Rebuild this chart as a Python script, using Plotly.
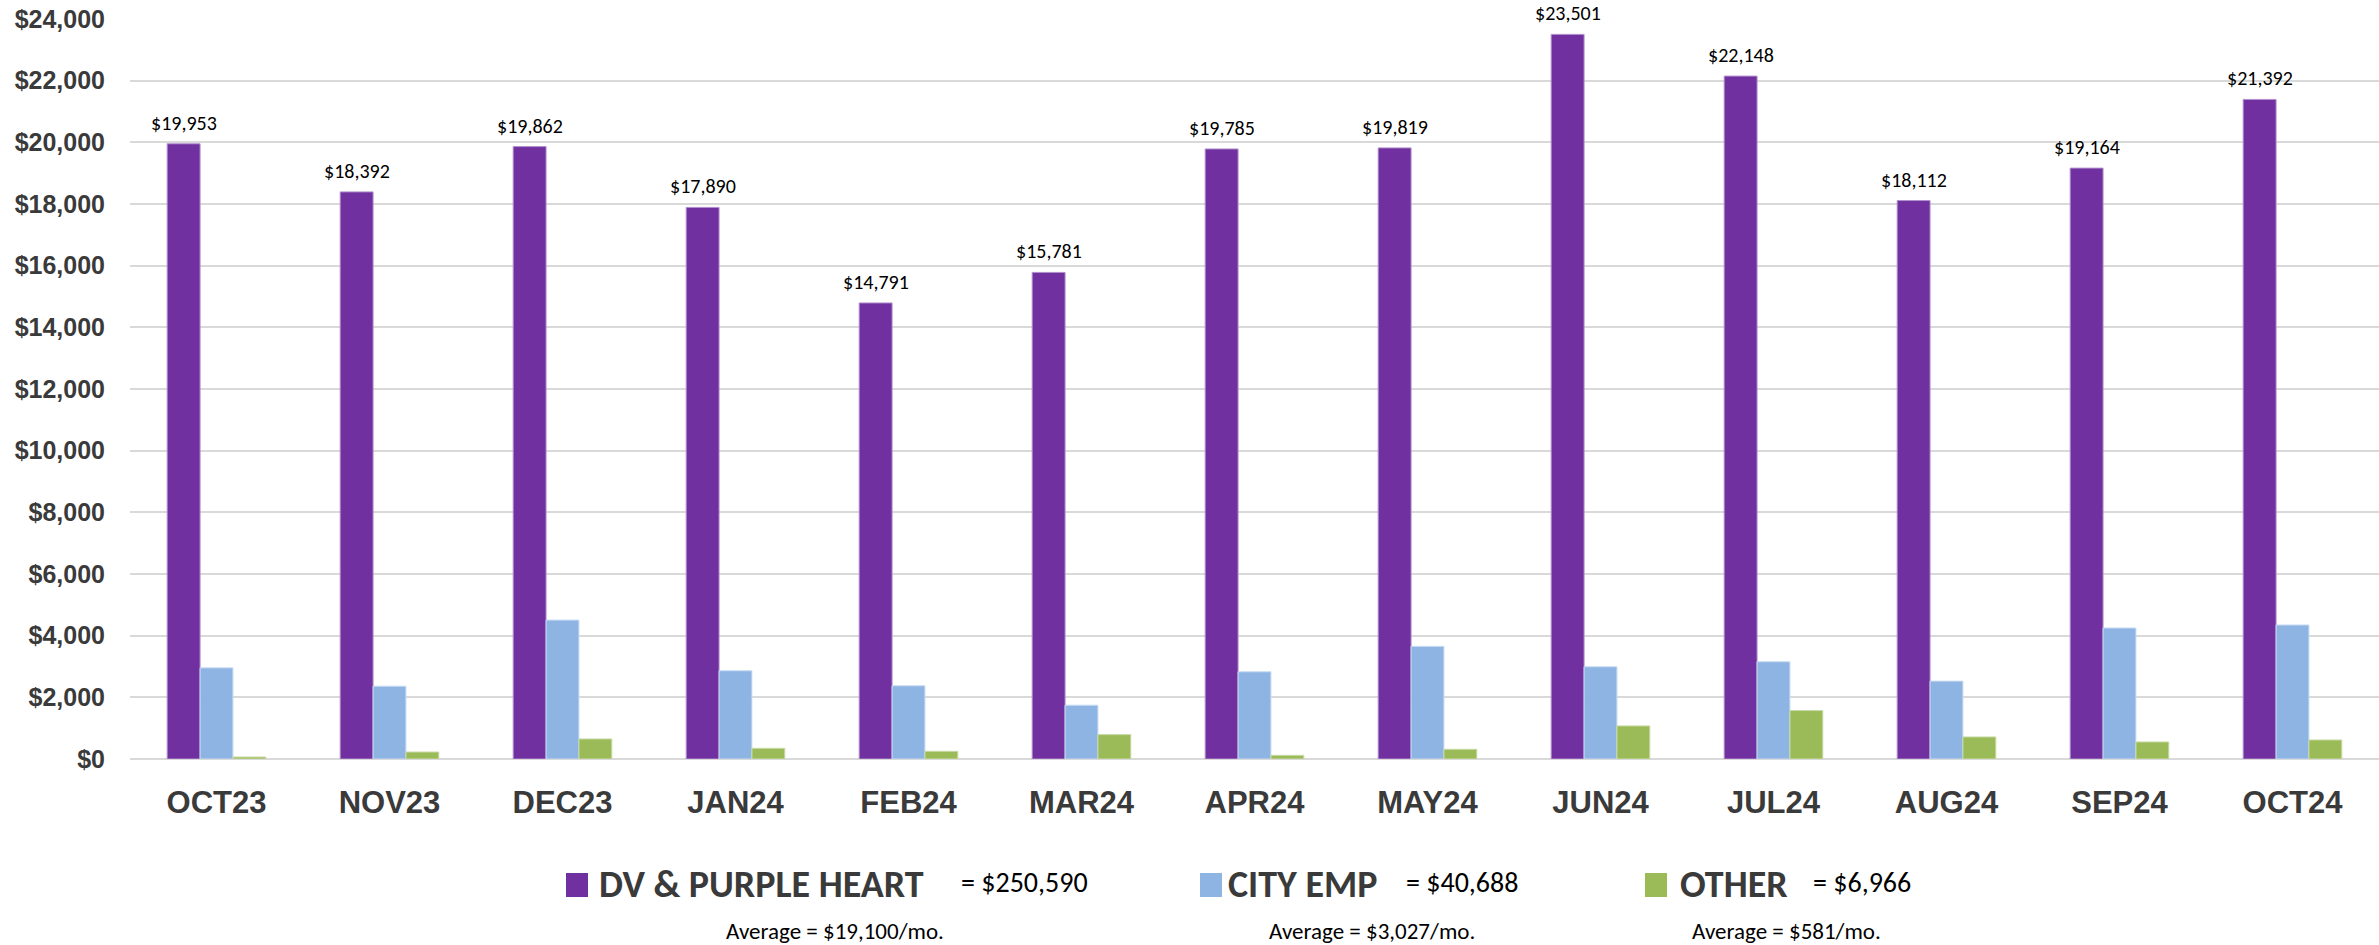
import plotly.graph_objects as go

months = ["OCT23", "NOV23", "DEC23", "JAN24", "FEB24", "MAR24", "APR24",
          "MAY24", "JUN24", "JUL24", "AUG24", "SEP24", "OCT24"]
dv_purple_heart = [19953, 18392, 19862, 17890, 14791, 15781, 19785,
                   19819, 23501, 22148, 18112, 19164, 21392]
city_emp = [2956, 2361, 4505, 2862, 2374, 1745, 2829,
            3653, 2992, 3154, 2526, 4249, 4347]
other = [65, 227, 650, 347, 249, 791, 119,
         314, 1073, 1572, 715, 553, 618]

series_names = ["DV & PURPLE HEART", "CITY EMP", "OTHER"]
series_totals = ["= $250,590", "= $40,688", "= $6,966"]
series_avgs = ["Average = $19,100/mo.", "Average = $3,027/mo.", "Average = $581/mo."]
y_ticks = list(range(0, 24001, 2000))

colors = ["#7030A0", "#8EB4E3", "#9BBB59"]
edge = ["#B08FCB", "#C9DBF2", "#C8DAA6"]

W, H = 2379, 945
ML, MR, MT, MB = 130, 0, 19, 186
PW, PH = W - ML - MR, H - MT - MB

fig = go.Figure()
for name, vals, c, e in zip(series_names, [dv_purple_heart, city_emp, other], colors, edge):
    fig.add_trace(go.Bar(x=months, y=vals, name=name, marker=dict(color=c, line=dict(color=e, width=1)),
                         hoverinfo="x+y"))

# data labels above purple bars (offset to the first bar of each group)
for m, v in zip(months, dv_purple_heart):
    fig.add_annotation(x=m, y=v, text=f"${v:,}", showarrow=False, xshift=-33, yshift=21,
                       yanchor="middle", font=dict(family="Carlito, Lato, sans-serif", size=20, color="#000000"))

def px_x(p):  # page pixel -> paper
    return (p - ML) / PW

def px_y(p):
    return (H - MB - p) / PH

# custom legend
marker_x = [566, 1200, 1645]
name_x = [597, 1226, 1678]
total_x = [959, 1404, 1811]
avg_cx = [835, 1372, 1786]
for i in range(3):
    fig.add_shape(type="rect", xref="paper", yref="paper",
                  x0=px_x(marker_x[i]), x1=px_x(marker_x[i] + 22),
                  y0=px_y(897), y1=px_y(873), fillcolor=colors[i], line=dict(width=0))
    fig.add_annotation(xref="paper", yref="paper", x=px_x(name_x[i]), y=px_y(884),
                       xanchor="left", yanchor="middle", showarrow=False,
                       text=f"<b>{series_names[i]}</b>",
                       font=dict(family="Carlito, Lato, sans-serif", size=38, color="#3A3A3A"))
    fig.add_annotation(xref="paper", yref="paper", x=px_x(total_x[i]), y=px_y(882),
                       xanchor="left", yanchor="middle", showarrow=False,
                       text=series_totals[i],
                       font=dict(family="Carlito, Lato, sans-serif", size=28, color="#000000"))
    fig.add_annotation(xref="paper", yref="paper", x=px_x(avg_cx[i]), y=px_y(931),
                       xanchor="center", yanchor="middle", showarrow=False,
                       text=series_avgs[i],
                       font=dict(family="Carlito, Lato, sans-serif", size=23, color="#000000"))

fig.update_layout(
    width=W, height=H,
    margin=dict(l=ML, r=MR, t=MT, b=MB, pad=0),
    paper_bgcolor="white", plot_bgcolor="white",
    barmode="group", bargap=0.43, bargroupgap=0,
    showlegend=False,
)
fig.update_xaxes(type="category", showgrid=False, showline=False, ticks="",
                 ticklabelstandoff=22,
                 tickfont=dict(family="Liberation Sans, Arial, sans-serif", size=31, color="#3A3A3A", weight="bold"))
fig.update_yaxes(range=[0, 24000], tickvals=y_ticks, ticktext=[f"${t:,}" for t in y_ticks],
                 showgrid=True, gridcolor="#D9D9D9", gridwidth=2,
                 zeroline=True, zerolinecolor="#D9D9D9", zerolinewidth=2,
                 showline=False, ticks="", ticklabelstandoff=24, ticklabeloverflow="allow",
                 tickfont=dict(family="Liberation Sans, Arial, sans-serif", size=25, color="#3A3A3A", weight="bold"))

fig.write_html("out.html", config={"displayModeBar": False},
               post_script="document.body.style.margin='0';document.body.style.overflow='hidden';")
